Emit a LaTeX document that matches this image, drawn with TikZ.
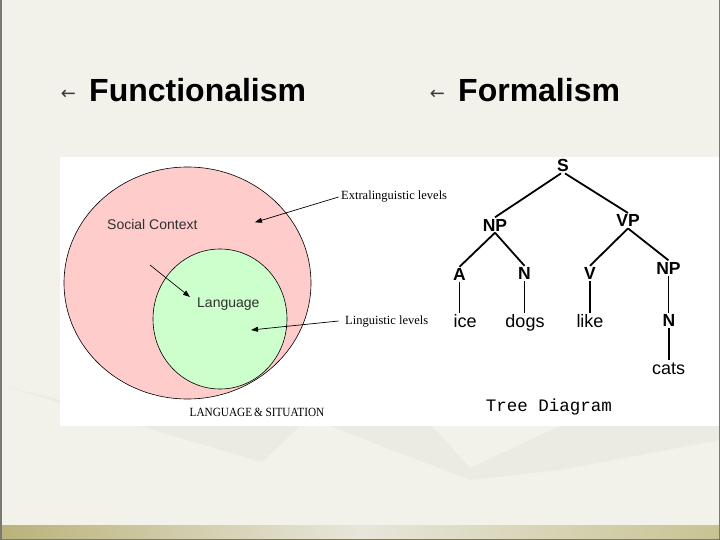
\documentclass[tikz,border=0pt]{standalone}
\usepackage{fontspec}
\setmainfont{Liberation Sans}
\newfontfamily\serifface{Liberation Serif}
\newfontfamily\monoface{Liberation Mono}
\newfontfamily\symface{DejaVu Sans}
\usetikzlibrary{arrows.meta}
\definecolor{bg}{HTML}{F2F1EA}
\definecolor{bgdark}{HTML}{E6E5DC}
\definecolor{pinkfill}{HTML}{FFCCCC}
\definecolor{greenfill}{HTML}{CCFFCC}
\definecolor{bulletgray}{HTML}{3A3A3A}
\definecolor{labelgray}{HTML}{303030}
\definecolor{bandA}{HTML}{BAB27A}
\definecolor{bandB}{HTML}{E8E6DA}
\definecolor{bandC}{HTML}{C8C394}
\definecolor{banddark}{HTML}{7F7A5A}
\definecolor{edgegray}{HTML}{7A7A74}
\begin{document}
\begin{tikzpicture}[x=1pt,y=-1pt,
  cdarrow/.style={line width=0.7pt,-{Triangle[length=7pt,width=5pt]}},
  tlab/.style={font=\fontsize{17.5}{20}\selectfont\bfseries,anchor=base,inner sep=1.5pt,text height=12pt,text depth=0pt},
  tword/.style={font=\fontsize{18}{20}\selectfont,anchor=base,inner sep=1.5pt,text height=12pt,text depth=0pt},
  tedge/.style={line width=1.8pt},
  heading/.style={font=\fontsize{32}{36}\selectfont\bfseries,anchor=base west,inner sep=0pt},
  bulletmark/.style={font=\symface\fontsize{18}{20}\selectfont,text=bulletgray,inner sep=0pt},
  serlab/.style={font=\serifface\fontsize{12.5}{14}\selectfont,anchor=base west,inner sep=1.5pt},
  sanslab/.style={font=\fontsize{14}{16}\selectfont,text=labelgray,anchor=base west,inner sep=0pt}]
\useasboundingbox (0,0) rectangle (720,540);
% background
\fill[bg] (0,0) rectangle (720,540);
\fill[bgdark,opacity=0.45] (0,385) -- (60,400) -- (60,426) -- (300,426) -- (262,462) -- cycle;
\fill[bgdark,opacity=0.45] (330,426) -- (432,426) -- (470,468) -- (560,426) -- (720,426) -- (720,440) -- (560,470) -- (470,480) -- cycle;
% bottom band
\shade[left color=bandA, right color=bandC, middle color=bandB] (0,525) rectangle (720,540);
\fill[banddark] (0,538.5) rectangle (720,540);
\fill[edgegray] (0,0) rectangle (1.5,538.5);
\fill[edgegray] (718.5,0) rectangle (720,538.5);
% white picture panel
\fill[white] (60,157) rectangle (718.5,426);
% headings
\node[bulletmark] (b1) at (68.5,95) {←};
\node[heading] (h1) at (89,101.7) {Functionalism};
\node[bulletmark] (b2) at (437.5,95) {←};
\node[heading] (h2) at (458,101.7) {Formalism};
% circle diagram
\draw[fill=pinkfill,line width=0.6pt] (187.5,283) ellipse [x radius=123.5, y radius=116];
\draw[fill=greenfill,line width=0.6pt] (220,319) ellipse [x radius=67, y radius=70];
\node[sanslab] (soc) at (107,229.5) {Social Context};
\node[sanslab] (lang) at (197,307) {Language};
\node[serlab] (ext) at (339.5,200) {Extralinguistic levels};
\node[serlab] (ling) at (343.5,324) {Linguistic levels};
\node[font=\serifface\fontsize{12.5}{14}\selectfont,xscale=0.9,anchor=base,inner sep=0pt] (cap) at (257,416.7) {LANGUAGE\,\& SITUATION};
\coordinate (socstart) at (150,265);
\coordinate (soctip) at (190,297);
\coordinate (exttip) at (255,222.3);
\coordinate (lingtip) at (251,330);
\draw[cdarrow] (socstart) -- (soctip);
\draw[cdarrow] ([xshift=-1pt]ext.west) -- (exttip);
\draw[cdarrow] ([xshift=-5pt]ling.west) -- (lingtip);
% tree diagram
\node[tlab] (S) at (563,171.7) {S};
\node[tlab] (NP1) at (495,231) {NP};
\node[tlab] (VP) at (628,226.7) {VP};
\node[tlab] (A) at (459.5,280.5) {A};
\node[tlab] (N1) at (524.5,279.5) {N};
\node[tlab] (V) at (590,279.5) {V};
\node[tlab] (NP2) at (668.5,274) {NP};
\node[tword,anchor=base west] (ice) at (452,327) {ice};
\node[tword] (dogs) at (525,327) {dogs};
\node[tword] (like) at (590,327) {like};
\node[tlab] (N2) at (669,326.7) {N};
\node[tword] (cats) at (668.5,374) {cats};
\draw[tedge] ([xshift=-2pt]S.south) -- (NP1.north);
\draw[tedge] ([xshift=2pt]S.south) -- (VP.north);
\draw[tedge] (NP1.south) -- (A.north);
\draw[tedge] (NP1.south) -- (N1.north);
\draw[tedge] (VP.south) -- (V.north);
\draw[tedge] (VP.south) -- (NP2.north);
\draw[tedge] (A.south) -- (A.south |- ice.north);
\draw[tedge] (N1.south) -- (N1.south |- dogs.north);
\draw[tedge] (V.south) -- (V.south |- like.north);
\draw[tedge] (NP2.south) -- (NP2.south |- N2.north);
\draw[tedge] (N2.south) -- (N2.south |- cats.north);
\node[font=\monoface\fontsize{17.5}{20}\selectfont,anchor=base,inner sep=0pt] (td) at (549,411.7) {Tree Diagram};
\end{tikzpicture}
\end{document}
